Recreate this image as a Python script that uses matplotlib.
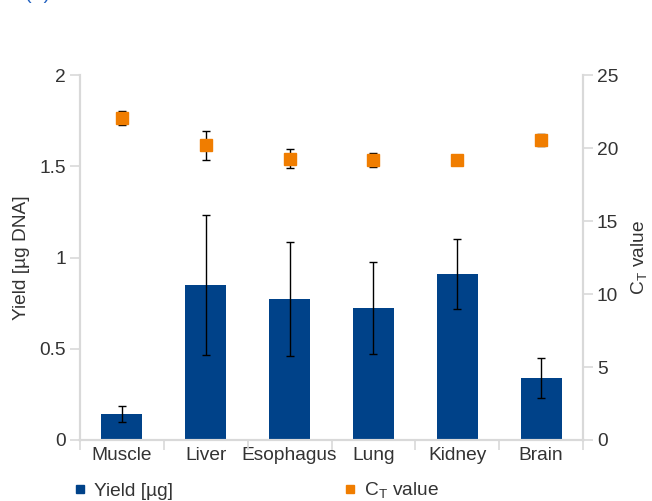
import matplotlib
matplotlib.use("Agg")
import matplotlib.pyplot as plt
from matplotlib.lines import Line2D
import numpy as np

plt.rcParams['font.family'] = ['Liberation Sans', 'DejaVu Sans']

tissues = ["Muscle", "Liver", "Esophagus", "Lung", "Kidney", "Brain"]
yield_ug = [0.142, 0.849, 0.773, 0.723, 0.91, 0.34]
yield_err = [0.045, 0.385, 0.31, 0.25, 0.19, 0.11]
ct_value = [22.05, 20.18, 19.25, 19.18, 19.2, 20.55]
ct_err = [0.5, 0.98, 0.65, 0.5, 0.2, 0.4]
left_ticks = [0, 0.5, 1, 1.5, 2]
left_ticklabels = ["0", "0.5", "1", "1.5", "2"]
right_ticks = [0, 5, 10, 15, 20, 25]

bar_color = "#004289"
ct_color = "#f07d00"
spine_color = "#d9d9d9"
text_color = "#333333"
fs = 13.8

fig = plt.figure(figsize=(6.52, 5.01), dpi=100)
ax = fig.add_axes([80 / 652, 61 / 501, 503 / 652, 365 / 501])
ax2 = ax.twinx()

x = np.arange(len(tissues))
ax.bar(x, yield_ug, width=0.49, color=bar_color, zorder=2)
ax.errorbar(x, yield_ug, yerr=yield_err, fmt='none', ecolor='black',
            elinewidth=1.0, capsize=3, capthick=1.0, zorder=3)

ax2.errorbar(x, ct_value, yerr=ct_err, fmt='none', ecolor='black',
             elinewidth=1.0, capsize=3, capthick=1.0, zorder=3)
ax2.plot(x, ct_value, linestyle='none', marker='s', markersize=8,
         color=ct_color, zorder=4)

ax.set_xlim(-0.5, len(tissues) - 0.5)
ax.set_ylim(0, 2)
ax2.set_ylim(0, 25)

ax.set_yticks(left_ticks)
ax.set_yticklabels(left_ticklabels)
ax2.set_yticks(right_ticks)

ax.set_xticks(x)
ax.set_xticklabels(tissues)
ax.set_xticks(np.arange(-0.5, len(tissues)), minor=True)
ax.tick_params(axis='x', which='major', length=0, pad=5,
               labelsize=fs, labelcolor=text_color)
ax.tick_params(axis='x', which='minor', length=7, width=1.2, color=spine_color)
ax.tick_params(axis='y', length=7, width=1.2, color=spine_color,
               labelsize=fs, labelcolor=text_color, pad=3)
ax2.tick_params(axis='y', length=7, width=1.2, color=spine_color,
                labelsize=fs, labelcolor=text_color, pad=3)

for a in (ax, ax2):
    a.spines["top"].set_visible(False)
    for side in ("left", "right", "bottom"):
        a.spines[side].set_color(spine_color)
        a.spines[side].set_linewidth(1.5)

ax.set_ylabel("Yield [µg DNA]", fontsize=fs, color=text_color, labelpad=7)
ax2.set_ylabel("C$_\\mathregular{T}$ value", fontsize=fs, color=text_color,
               rotation=90, labelpad=8)

handles = [
    Line2D([], [], linestyle='none', marker='s', markersize=6, color=bar_color),
    Line2D([], [], linestyle='none', marker='s', markersize=6, color=ct_color),
]
fig.legend(handles, ["Yield [µg]", "C$_\\mathregular{T}$ value"], ncol=2,
           loc='center left', bbox_to_anchor=(68 / 652, 10 / 501),
           frameon=False, fontsize=fs, handlelength=0.5, handletextpad=0.45,
           columnspacing=9.0, labelcolor=text_color, borderaxespad=0)

fig.text(25 / 652, 1 + 1 / 501, "(A)", fontsize=14, color="#1f5fbf",
         va='baseline', ha='left')

fig.savefig("out.png", dpi=100)
